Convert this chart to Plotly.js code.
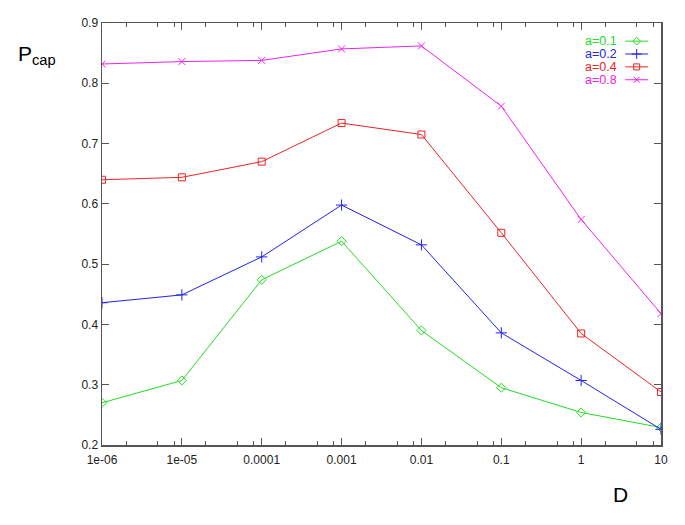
<!DOCTYPE html>
<html>
<head>
<meta charset="utf-8">
<script src="https://cdn.plot.ly/plotly-3.0.1.min.js"></script>
<style>html,body{margin:0;padding:0;background:#fff;}#chart{width:685px;height:525px;}</style>
</head>
<body>
<div id="chart"></div>
<script>
const D = [1e-6, 1e-5, 1e-4, 1e-3, 1e-2, 1e-1, 1, 10];
const xTickLabels = ["1e-06", "1e-05", "0.0001", "0.001", "0.01", "0.1", "1", "10"];
const yTicks = [0.2, 0.3, 0.4, 0.5, 0.6, 0.7, 0.8, 0.9];
const seriesNames = ["a=0.1", "a=0.2", "a=0.4", "a=0.8"];
const a01 = [0.270, 0.307, 0.474, 0.538, 0.390, 0.295, 0.254, 0.229];
const a02 = [0.436, 0.449, 0.512, 0.598, 0.532, 0.386, 0.307, 0.226];
const a04 = [0.640, 0.644, 0.670, 0.734, 0.715, 0.552, 0.385, 0.288];
const a08 = [0.832, 0.836, 0.838, 0.857, 0.862, 0.762, 0.574, 0.418];
const seriesValues = [a01, a02, a04, a08];

const colors = ["#22dd22", "#2222ee", "#ee2222", "#ee22ee"];
const symbols = ["diamond-open", "cross-thin-open", "square-open", "x-thin-open"];
const sizes = [7, 8, 7, 7];

const minorVals = [];
D.slice(0, -1).forEach(d => { [2, 5, 8].forEach(m => minorVals.push(d * m)); });

const traces = [];
seriesValues.forEach((vals, i) => {
  traces.push({
    x: D, y: vals, type: "scatter", mode: "lines+markers", name: seriesNames[i],
    line: {color: colors[i], width: 1},
    marker: {symbol: symbols[i], size: sizes[i], color: colors[i], line: {color: colors[i], width: 1}},
    showlegend: false, hoverinfo: "skip"
  });
});

// custom gnuplot-style legend (text left, sample right)
const legTop = 0.957, legStep = 0.0305;
const annotations = [];
const shapes = [];
seriesNames.forEach((n, i) => {
  const yy = legTop - i * legStep;
  annotations.push({xref: "x2", yref: "y2", x: 0.923, y: yy, text: n, showarrow: false,
    height: 12, borderpad: 0,
    xanchor: "right", yanchor: "middle", font: {family: "Liberation Sans, Arial, sans-serif", size: 12.5, color: colors[i]}});
  shapes.push({type: "line", xref: "x2", yref: "y2", x0: 0.936, x1: 0.977, y0: yy, y1: yy,
    line: {color: colors[i], width: 1}});
  traces.push({x: [0.9565], y: [yy], xaxis: "x2", yaxis: "y2", type: "scatter", mode: "markers",
    marker: {symbol: symbols[i], size: sizes[i] - 1, color: colors[i], line: {color: colors[i], width: 1}},
    showlegend: false, hoverinfo: "skip"});
});

annotations.push({xref: "paper", yref: "paper", x: -0.154, y: 0.925, text: "P<sub>cap</sub>", showarrow: false,
  xanchor: "left", yanchor: "middle", font: {family: "Liberation Sans, Arial, sans-serif", size: 21, color: "#000"}});
annotations.push({xref: "paper", yref: "paper", x: 0.928, y: -0.118, text: "D", showarrow: false,
  xanchor: "center", yanchor: "middle", font: {family: "Liberation Sans, Arial, sans-serif", size: 21, color: "#000"}});

const axisColor = "#555";
const layout = {
  width: 685, height: 525,
  margin: {l: 102, r: 24, t: 23, b: 80},
  paper_bgcolor: "#fff", plot_bgcolor: "#fff",
  font: {family: "Liberation Sans, Arial, sans-serif", size: 12, color: "#000"},
  showlegend: false,
  xaxis: {
    type: "log", range: [-6, 1], tickmode: "array", tickvals: D, ticktext: xTickLabels,
    ticks: "inside", ticklen: 7, tickcolor: axisColor, tickwidth: 1,
    showline: true, linecolor: axisColor, linewidth: 1.5, mirror: "allticks",
    showgrid: false, zeroline: false, ticklabelstandoff: 3,
    minor: {tickmode: "array", tickvals: minorVals, ticks: "inside", ticklen: 4, tickcolor: axisColor, showgrid: false},
    tickfont: {size: 12, color: "#222"}
  },
  yaxis: {
    range: [0.2, 0.9], tickmode: "array", tickvals: yTicks, ticktext: yTicks.map(v => v.toFixed(1)),
    ticks: "inside", ticklen: 7, tickcolor: axisColor, tickwidth: 1,
    showline: true, linecolor: axisColor, linewidth: 1.5, mirror: "allticks",
    showgrid: false, zeroline: false,
    tickfont: {size: 12, color: "#222"}
  },
  xaxis2: {overlaying: "x", range: [0, 1], visible: false, fixedrange: true},
  yaxis2: {overlaying: "y", range: [0, 1], visible: false, fixedrange: true},
  annotations: annotations,
  shapes: shapes
};

Plotly.newPlot("chart", traces, layout, {displayModeBar: false, staticPlot: true});
</script>
</body>
</html>
